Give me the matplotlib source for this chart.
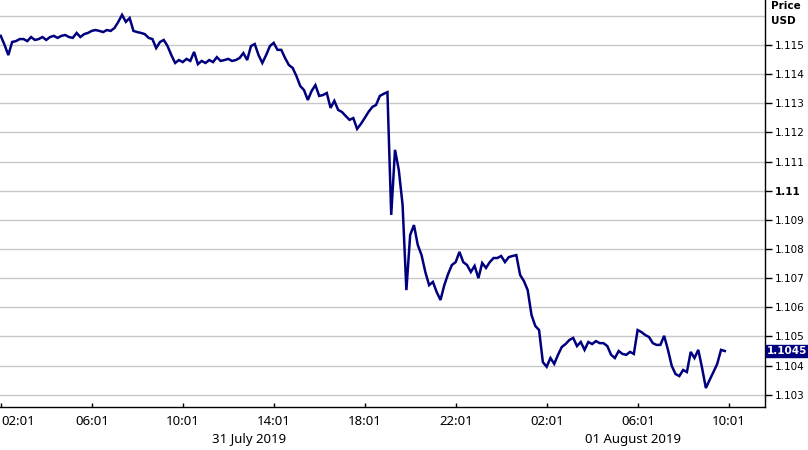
import pandas as pd
import matplotlib
matplotlib.use("Agg")
import matplotlib.pyplot as plt
import matplotlib.dates as mdates
import matplotlib.transforms as mtransforms

# EUR/USD, 10 minute samples, 31 July 2019 02:00 -> 01 August 2019 09:50
prices = [
    1.11531, 1.11500, 1.11465, 1.11510, 1.11513, 1.11520,  # 02
    1.11520, 1.11513, 1.11527, 1.11517, 1.11520, 1.11527,  # 03
    1.11517, 1.11527, 1.11531, 1.11524, 1.11531, 1.11534,  # 04
    1.11527, 1.11524, 1.11541, 1.11527, 1.11537, 1.11541,  # 05
    1.11548, 1.11551, 1.11548, 1.11544, 1.11551, 1.11548,  # 06
    1.11558, 1.11579, 1.11603, 1.11579, 1.11592, 1.11548,  # 07
    1.11544, 1.11541, 1.11537, 1.11524, 1.11520, 1.11489,  # 08
    1.11510, 1.11517, 1.11496, 1.11465, 1.11438, 1.11448,  # 09
    1.11441, 1.11452, 1.11445, 1.11476, 1.11434, 1.11445,  # 10
    1.11438, 1.11448, 1.11441, 1.11458, 1.11445, 1.11448,  # 11
    1.11452, 1.11445, 1.11448, 1.11455, 1.11472, 1.11448,  # 12
    1.11496, 1.11503, 1.11465, 1.11438, 1.11465, 1.11496,  # 13
    1.11507, 1.11483, 1.11483, 1.11455, 1.11431, 1.11421,  # 14
    1.11393, 1.11359, 1.11345, 1.11311, 1.11342, 1.11362,  # 15
    1.11325, 1.11328, 1.11335, 1.11284, 1.11308, 1.11277,  # 16
    1.11270, 1.11256, 1.11243, 1.11249, 1.11212, 1.11229,  # 17
    1.11249, 1.11270, 1.11287, 1.11294, 1.11325, 1.11332,  # 18
    1.11338, 1.10917, 1.11140, 1.11071, 1.10951, 1.10659,  # 19
    1.10848, 1.10882, 1.10814, 1.10779, 1.10721, 1.10676,  # 20
    1.10687, 1.10652, 1.10625, 1.10676, 1.10714, 1.10745,  # 21
    1.10755, 1.10790, 1.10755, 1.10745, 1.10721, 1.10742,  # 22
    1.10700, 1.10752, 1.10735, 1.10755, 1.10769, 1.10769,  # 23
    1.10776, 1.10755, 1.10772, 1.10776, 1.10779, 1.10711,  # 00
    1.10690, 1.10659, 1.10574, 1.10536, 1.10522, 1.10412,  # 01
    1.10396, 1.10426, 1.10406, 1.10437, 1.10464, 1.10474,  # 02
    1.10488, 1.10495, 1.10467, 1.10481, 1.10454, 1.10481,  # 03
    1.10474, 1.10484, 1.10477, 1.10477, 1.10467, 1.10437,  # 04
    1.10426, 1.10450, 1.10440, 1.10437, 1.10447, 1.10440,  # 05
    1.10522, 1.10515, 1.10505, 1.10498, 1.10477, 1.10471,  # 06
    1.10471, 1.10502, 1.10454, 1.10399, 1.10371, 1.10364,  # 07
    1.10385, 1.10378, 1.10447, 1.10426, 1.10454, 1.10392,  # 08
    1.10323, 1.10351, 1.10378, 1.10406, 1.10454, 1.10450,  # 09
]
times = pd.date_range("2019-07-31 02:00", periods=len(prices), freq="10min")

last_price = 1.1045
y_ticks = [1.103, 1.104, 1.105, 1.106, 1.107, 1.108, 1.109, 1.11,
           1.111, 1.112, 1.113, 1.114, 1.115]
y_labels = ["1.103", "1.104", "1.105", "1.106", "1.107", "1.108", "1.109", "1.11",
            "1.111", "1.112", "1.113", "1.114", "1.115"]
x_ticks = pd.date_range("2019-07-31 02:01", "2019-08-01 10:01", freq="4h")
day_labels = ["31 July 2019", "01 August 2019"]
day_centres = [pd.Timestamp("2019-07-31 12:55"), pd.Timestamp("2019-08-01 05:48")]

navy = "#00007f"

fig = plt.figure(figsize=(8.08, 4.5), dpi=100)
ax = fig.add_axes([0.0, 1 - 407 / 450, 765 / 808, 407 / 450])

for y in y_ticks + [1.116]:
    ax.axhline(y, color="#c8c8c8", lw=1.0, zorder=1)

ax.plot(times, prices, color=navy, lw=1.8, zorder=3, solid_joinstyle="miter")

ax.set_xlim(pd.Timestamp("2019-07-31 01:58"), pd.Timestamp("2019-08-01 11:36"))
ax.set_ylim(1.10258, 1.11654)

ax.spines["left"].set_visible(False)
ax.spines["top"].set_visible(False)
for s in ("right", "bottom"):
    ax.spines[s].set_color("black")
    ax.spines[s].set_linewidth(1.0)

ax.yaxis.tick_right()
ax.set_yticks(y_ticks)
ax.set_yticklabels(y_labels, fontfamily="DejaVu Sans", fontsize=7.5)
ax.tick_params(axis="y", direction="out", length=5, width=1, pad=2, colors="black")
for lbl in ax.get_yticklabels():
    if lbl.get_text() == "1.11":
        lbl.set_fontweight("bold")

ax.set_xticks(x_ticks)
ax.xaxis.set_major_formatter(mdates.DateFormatter("%H:%M"))
ax.tick_params(axis="x", direction="in", length=3, width=1, pad=6, labelsize=9.5)
for lbl in ax.get_xticklabels():
    lbl.set_fontfamily("Noto Sans")
# first label is pushed inside the picture, as in the original
ax.get_xticklabels()[0].set_horizontalalignment("left")

trans = mtransforms.blended_transform_factory(ax.transData, fig.transFigure)
for lab, c in zip(day_labels, day_centres):
    ax.text(c, 1 - 440 / 450, lab, transform=trans, ha="center", va="center",
            fontsize=9.5, fontfamily="Noto Sans", color="black")

ax.annotate("1.1045", xy=(1.0, last_price), xycoords=("axes fraction", "data"),
            xytext=(1.5, 0), textcoords="offset points", ha="left", va="center",
            fontsize=7.5, fontweight="bold", color="white", fontfamily="DejaVu Sans",
            bbox=dict(boxstyle="square,pad=0.12", fc=navy, ec=navy),
            annotation_clip=False, zorder=5)

fig.text(771 / 808, 1 - 6 / 450, "Price", ha="left", va="center",
         fontsize=7.5, fontweight="bold", fontfamily="DejaVu Sans")
fig.text(771 / 808, 1 - 21 / 450, "USD", ha="left", va="center",
         fontsize=7.5, fontweight="bold", fontfamily="DejaVu Sans")

fig.savefig("out.png", dpi=100)
